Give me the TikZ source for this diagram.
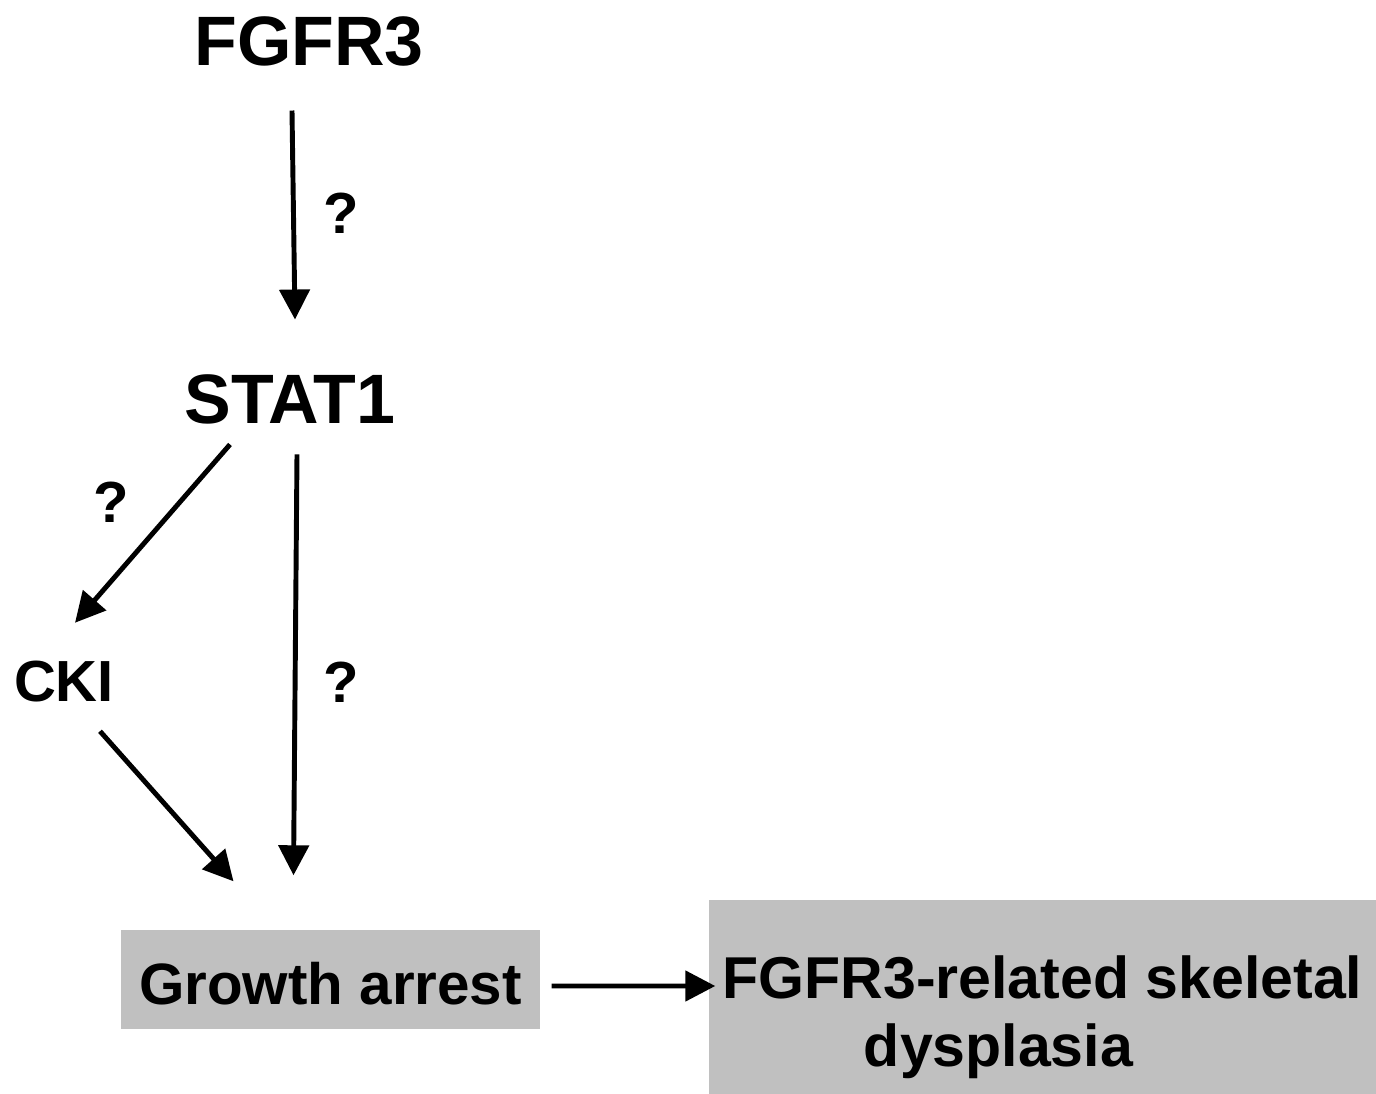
\documentclass[tikz,border=0pt]{standalone}
\usepackage{fontspec}
\setmainfont{Liberation Sans}
\usetikzlibrary{arrows.meta}

\begin{document}
\begin{tikzpicture}
    \definecolor{boxColour}{HTML}{C0C0C0}

    \tikzset{
        big/.style={inner sep=0pt, font=\fontsize{19.9}{23}\selectfont\bfseries},
        small/.style={inner sep=0pt, font=\fontsize{16.5}{19.5}\selectfont\bfseries},
        greybox/.style={fill=boxColour, inner sep=0pt,
            font=\fontsize{16.6}{19.5}\selectfont\bfseries},
        arr/.style={line width=1.4pt, -{Triangle[length=0.3cm,width=0.3cm]}}
    }

    % Page frame
    \useasboundingbox (0,0) rectangle (13.76,-10.94);

    % Proteins
    \node[big] (fgfr3) at (3.09,-0.41) {FGFR3};
    \node[big] (stat1) at (2.90,-3.99) {STAT1};
    \node[small] (cki) at (0.64,-6.82) {CKI};

    % Question marks
    \node[small] (q1) at (3.41,-2.13) {?};
    \node[small] (q2) at (1.11,-5.02) {?};
    \node[small] (q3) at (3.41,-6.82) {?};

    % Outcome boxes
    \node[greybox, minimum width=4.19cm, minimum height=0.99cm] (growth) at (3.305,-9.795)
        {\raisebox{-0.245cm}[0pt][0pt]{Growth arrest}};
    \node[greybox, minimum width=6.67cm, minimum height=1.94cm, font=\fontsize{16.8}{19.5}\selectfont\bfseries] (dys) at (10.425,-9.97)
        {\raisebox{-0.37cm}[0pt][0pt]{\begin{tabular}{@{}c@{}}FGFR3-related skeletal\\dysplasia\hspace*{0.88cm}\end{tabular}}};

    % Arrows
    \draw[arr] ([shift={(-0.17,-0.44)}]fgfr3.south) -- ([shift={(0.05,0.54)}]stat1.north);
    \draw[arr] ([shift={(-0.60,-0.20)}]stat1.south) -- ([shift={(0.11,0.38)}]cki.north);
    \draw[arr] ([shift={(0.07,-0.30)}]stat1.south) -- ([shift={(-0.37,0.54)}]growth.north);
    \draw[arr] ([shift={(0.36,-0.28)}]cki.south) -- ([shift={(-0.97,0.48)}]growth.north);
    \draw[arr] ([shift={(0.11,-0.065)}]growth.east) -- ([shift={(0.07,0.11)}]dys.west);

\end{tikzpicture}
\end{document}
